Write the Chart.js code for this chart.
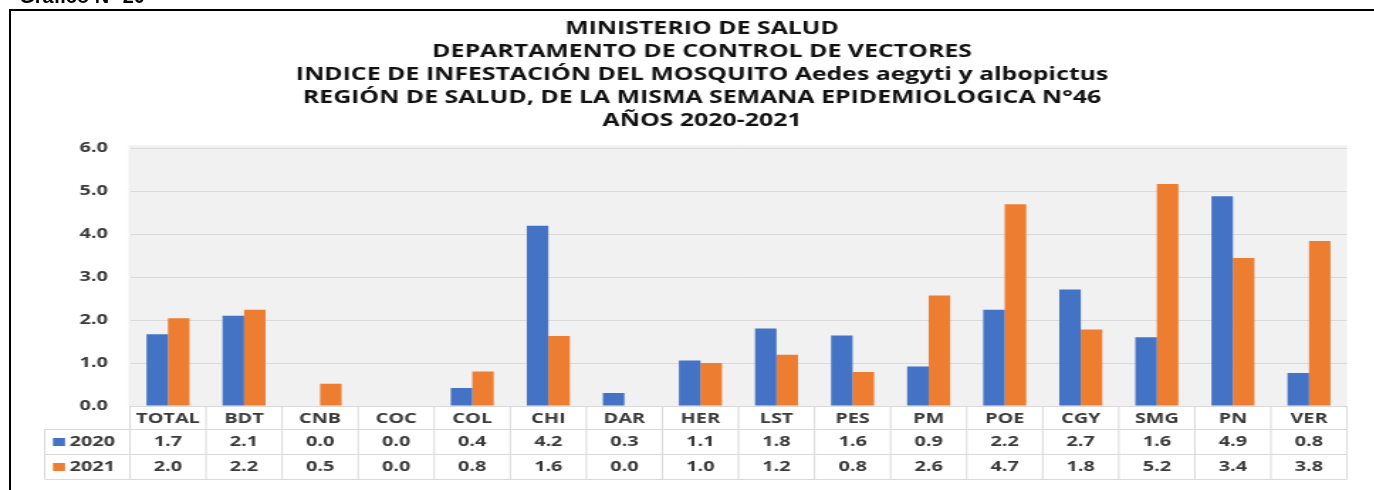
<!DOCTYPE html>
<html>
<head>
<meta charset="utf-8">
<script src="https://cdn.jsdelivr.net/npm/chart.js@4.4.1/dist/chart.umd.min.js"></script>
<style>
  html, body { margin: 0; padding: 0; background: #ffffff; }
  #wrap { position: relative; width: 1374px; height: 490px; overflow: hidden; background: #fff; }
  #frame { position: absolute; left: 9px; top: 9px; width: 1400px; height: 500px; border-top: 2px solid #000; border-left: 2px solid #000; pointer-events: none; }
  #caption { position: absolute; right: 1229px; top: -15px; font: bold 20px "Liberation Sans", Arial, sans-serif; color: #000; white-space: nowrap; }
  #c { position: absolute; left: 0; top: 0; transform: scaleX(1.42); transform-origin: 0 0; }
</style>
</head>
<body>
<div id="wrap">
  <canvas id="c" width="968" height="490"></canvas>
  <div id="frame"></div>
  <div id="caption">Gráfico N° 20</div>
</div>
<script>
const titleLines = [
  "MINISTERIO DE SALUD",
  "DEPARTAMENTO DE CONTROL DE VECTORES",
  "INDICE DE INFESTACIÓN DEL MOSQUITO Aedes aegyti y albopictus",
  "REGIÓN DE SALUD, DE LA MISMA SEMANA EPIDEMIOLOGICA N°46",
  "AÑOS 2020-2021"
];
const categories = ["TOTAL","BDT","CNB","COC","COL","CHI","DAR","HER","LST","PES","PM","POE","CGY","SMG","PN","VER"];
const seriesNames = ["2020", "2021"];
const values2020 = [1.67, 2.10, 0.00, 0.00, 0.42, 4.19, 0.30, 1.06, 1.80, 1.64, 0.92, 2.24, 2.71, 1.60, 4.88, 0.77];
const values2021 = [2.04, 2.24, 0.52, 0.00, 0.80, 1.63, 0.00, 1.00, 1.19, 0.79, 2.57, 4.69, 1.78, 5.16, 3.44, 3.84];
const yTicks = [0, 1, 2, 3, 4, 5, 6];

const BLUE = "#4472C4", ORANGE = "#ED7D31";
const TEXT = "#3a3a3a", GRID = "#d9d9d9";
const FONT = "'Open Sans', 'DejaVu Sans', sans-serif";

const bgPlugin = {
  id: "plotBg",
  beforeDraw(chart) {
    const {ctx, chartArea: a} = chart;
    ctx.save();
    ctx.fillStyle = "#f1f1f1";
    ctx.fillRect(a.left - 1, a.top - 3, a.right - a.left + 1, a.bottom - a.top + 3);
    ctx.restore();
  }
};

const titlePlugin = {
  id: "multiTitle",
  afterDraw(chart) {
    const ctx = chart.ctx;
    ctx.save();
    ctx.fillStyle = "#111";
    ctx.font = "bold 17.5px " + FONT;
    ctx.textAlign = "center";
    ctx.textBaseline = "middle";
    titleLines.forEach((t, i) => ctx.fillText(t, 494.4, 29.5 + i * 23));
    ctx.restore();
  }
};

const tablePlugin = {
  id: "dataTable",
  afterDraw(chart) {
    const ctx = chart.ctx;
    const xs = chart.scales.x;
    const a = chart.chartArea;
    const n = categories.length;
    const colW = (a.right - a.left) / n;
    const top = a.bottom;
    const headH = 23, rowH = 25;
    const legL = 31.5;
    const r1 = top + headH, r2 = r1 + rowH, r3 = r2 + rowH;
    ctx.save();
    ctx.strokeStyle = GRID;
    ctx.lineWidth = 1;
    ctx.beginPath();
    [r1, r2, r3].forEach(y => { ctx.moveTo(legL, y + 0.5); ctx.lineTo(a.right, y + 0.5); });
    for (let i = 0; i <= n; i++) {
      const x = a.left + i * colW;
      ctx.moveTo(x, top); ctx.lineTo(x, r3);
    }
    ctx.moveTo(legL, r1); ctx.lineTo(legL, r3);
    ctx.stroke();

    ctx.font = "bold 14px " + FONT;
    ctx.fillStyle = TEXT;
    ctx.textAlign = "center";
    ctx.textBaseline = "middle";
    const rows = [values2020, values2021];
    rows.forEach((vals, ri) => {
      const yc = (ri === 0 ? r1 : r2) + rowH / 2 + 0.5;
      vals.forEach((v, i) => {
        ctx.fillText(v.toFixed(1), xs.getPixelForValue(i), yc);
      });
      ctx.fillStyle = chart.data.datasets[ri].backgroundColor;
      ctx.fillRect(37.3, yc - 4, 8.5, 8);
      ctx.fillStyle = TEXT;
      ctx.textAlign = "left";
      ctx.fillText(seriesNames[ri], 49, yc);
      ctx.textAlign = "center";
    });
    ctx.restore();
  }
};

new Chart(document.getElementById("c"), {
  type: "bar",
  data: {
    labels: categories,
    datasets: [
      { label: seriesNames[0], data: values2020, backgroundColor: BLUE, categoryPercentage: 0.565, barPercentage: 1.0 },
      { label: seriesNames[1], data: values2021, backgroundColor: ORANGE, categoryPercentage: 0.565, barPercentage: 1.0 }
    ]
  },
  options: {
    responsive: false,
    devicePixelRatio: 1,
    animation: false,
    events: [],
    layout: { padding: { top: 148, right: 19.4, left: 0, bottom: 0 } },
    plugins: { legend: { display: false }, tooltip: { enabled: false }, title: { display: false } },
    scales: {
      y: {
        min: 0, max: 6,
        afterBuildTicks(s) { s.ticks = yTicks.map(v => ({ value: v })); },
        afterFit(s) { s.width = 91.5; },
        ticks: { callback: v => Number(v).toFixed(1), color: TEXT, font: { family: FONT, weight: "bold", size: 14 }, padding: 15.5 },
        grid: { color: GRID, drawTicks: false },
        border: { display: false }
      },
      x: {
        afterFit(s) { s.height = 84; },
        ticks: { color: TEXT, font: { family: FONT, weight: "bold", size: 14 }, padding: 5, maxRotation: 0, autoSkip: false },
        grid: { display: false, drawTicks: false },
        border: { color: GRID }
      }
    }
  },
  plugins: [bgPlugin, titlePlugin, tablePlugin]
});
</script>
</body>
</html>
